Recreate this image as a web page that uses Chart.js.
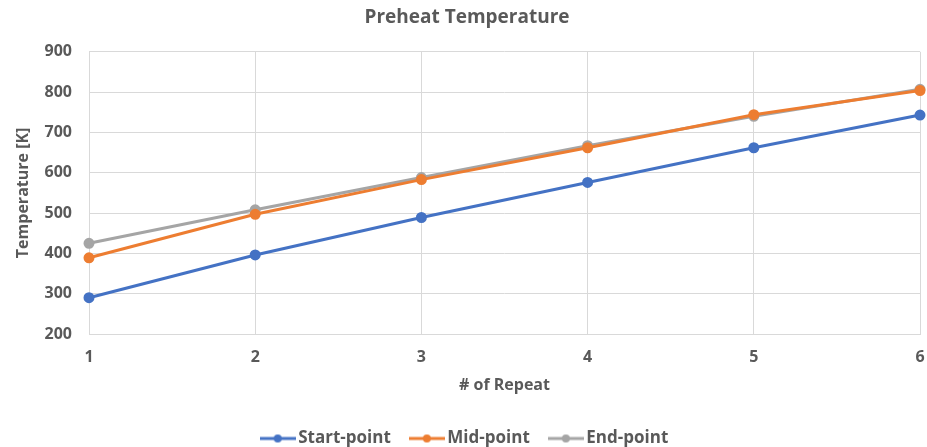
<!DOCTYPE html>
<html>
<head>
<meta charset="utf-8">
<script src="https://cdn.jsdelivr.net/npm/chart.js@4.4.1/dist/chart.umd.min.js"></script>
<style>
  html, body { margin: 0; padding: 0; background: #fff; }
  #wrap { width: 927px; height: 447px; }
</style>
</head>
<body>
<div id="wrap"><canvas id="preheat_chart"></canvas></div>
<script>
Chart.defaults.font.family = "'Open Sans', 'Noto Sans', sans-serif";
Chart.defaults.color = '#595959';

const repeats = [1, 2, 3, 4, 5, 6];
const startPoint = [290, 396, 489, 576, 662, 743];
const midPoint = [389, 497, 583, 662, 744, 804];
const endPoint = [425, 508, 588, 667, 740, 807];
const yTicks = [200, 300, 400, 500, 600, 700, 800, 900];
const seriesColors = ['#4472C4', '#ED7D31', '#A5A5A5'];

// legend marker: short line with a dot in the middle
function legendMarker(color) {
  const c = document.createElement('canvas');
  c.width = 36; c.height = 10;
  const g = c.getContext('2d');
  g.strokeStyle = color;
  g.lineWidth = 3;
  g.beginPath(); g.moveTo(0, 5); g.lineTo(36, 5); g.stroke();
  g.fillStyle = color;
  g.beginPath(); g.arc(18, 5, 4, 0, Math.PI * 2); g.fill();
  return c;
}

function series(label, values, color) {
  return {
    label: label,
    data: repeats.map((x, i) => ({ x: x, y: values[i] })),
    borderColor: color,
    backgroundColor: color,
    borderWidth: 3,
    pointRadius: 4,
    pointHoverRadius: 4,
    pointStyle: 'circle',
    tension: 0,
  };
}

const data_preheat = {
  datasets: [
    series('Start-point', startPoint, seriesColors[0]),
    series('Mid-point', midPoint, seriesColors[1]),
    series('End-point', endPoint, seriesColors[2]),
  ],
};

const options_preheat = {
  responsive: true,
  maintainAspectRatio: false,
  animation: false,
  clip: false,
  layout: { padding: { left: 14, right: 7, top: 4, bottom: -10 } },
  scales: {
    x: {
      type: 'linear',
      min: 1,
      max: 6,
      ticks: { stepSize: 1, font: { size: 16, weight: 'bold' }, padding: 14 },
      grid: { color: '#d9d9d9', lineWidth: 1, drawTicks: false },
      border: { color: '#d9d9d9' },
      title: { display: true, text: '# of Repeat', font: { size: 16, weight: 'bold' }, padding: { top: 6, bottom: 11 } },
      afterFit: (scale) => { scale.height = 72; scale.paddingLeft = 0; scale.paddingRight = 0; },
    },
    y: {
      min: 200,
      max: 900,
      afterBuildTicks: (scale) => { scale.ticks = yTicks.map(v => ({ value: v })); },
      ticks: { font: { size: 16, weight: 'bold' }, padding: 17 },
      grid: { color: '#d9d9d9', lineWidth: 1, drawTicks: false },
      border: { display: false },
      title: { display: true, text: 'Temperature [K]', font: { size: 16, weight: 'bold' }, padding: { top: 0, bottom: 4 } },
      afterFit: (scale) => { scale.width = 75; },
    },
  },
  plugins: {
    title: {
      display: true,
      text: 'Preheat Temperature',
      color: '#595959',
      font: { size: 19, weight: 'bold' },
      padding: { top: 2, bottom: 23 },
    },
    legend: {
      position: 'bottom',
      labels: {
        usePointStyle: true,
        pointStyleWidth: 24,
        boxHeight: 10,
        padding: 24,
        font: { size: 17, weight: 'bold' },
        color: '#595959',
        generateLabels: (chart) => chart.data.datasets.map((ds, i) => ({
          text: ds.label,
          pointStyle: legendMarker(ds.borderColor),
          fillStyle: ds.borderColor,
          strokeStyle: ds.borderColor,
          lineWidth: 0,
          fontColor: '#595959',
          hidden: false,
          datasetIndex: i,
        })),
      },
    },
    tooltip: { enabled: false },
  },
};

const ctx_preheat = document.getElementById('preheat_chart');
const chart_preheat = new Chart(ctx_preheat, {
  type: 'line',
  data: data_preheat,
  options: options_preheat,
});
</script>
</body>
</html>
